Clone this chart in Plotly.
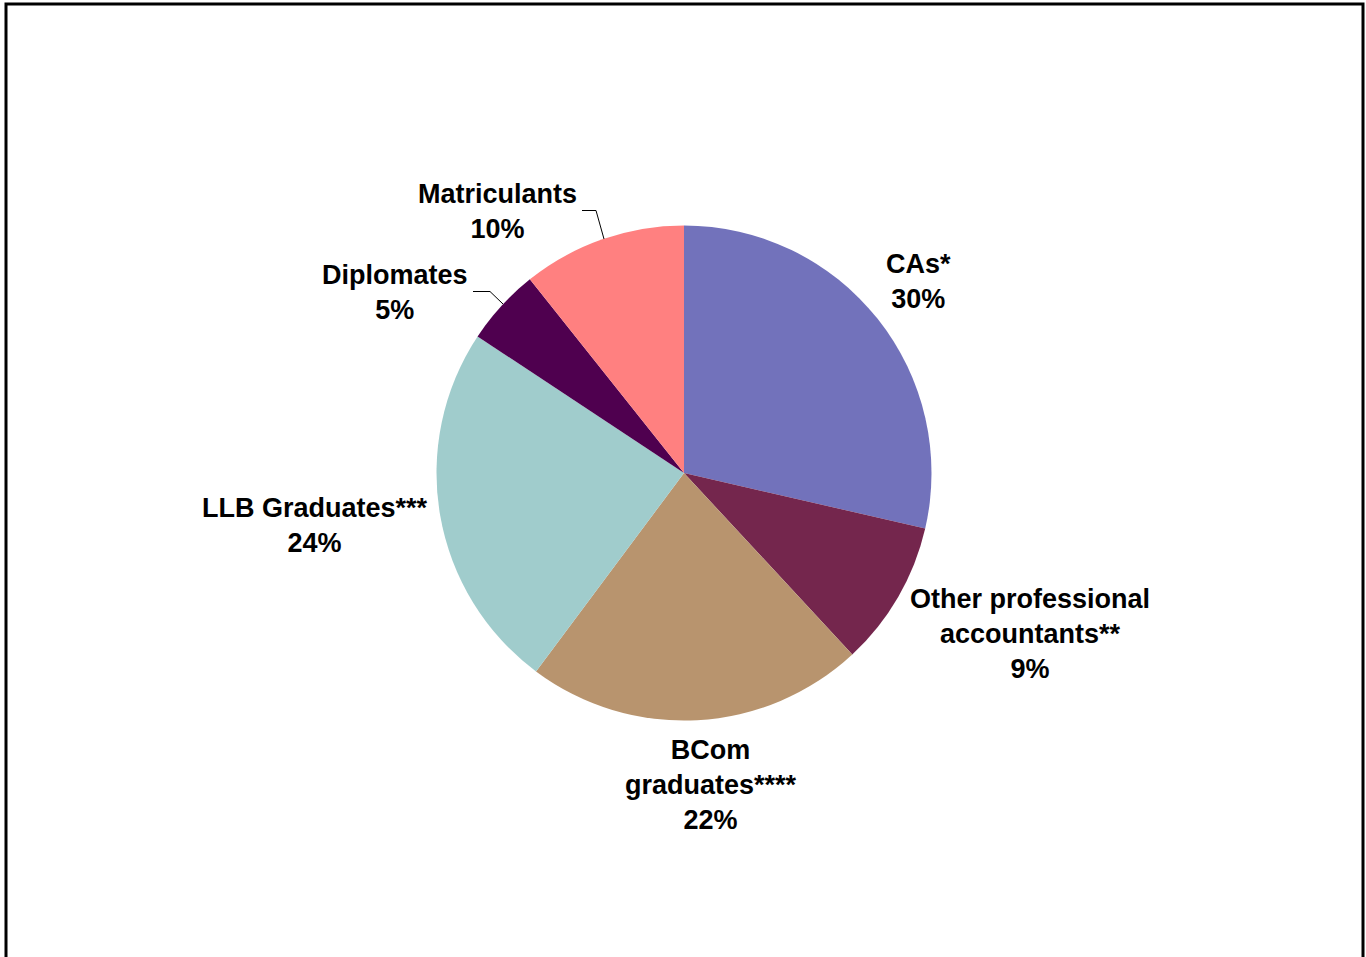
import plotly.graph_objects as go

# Data (slice shares; label text as printed)
categories = ["CAs*", "Other professional<br>accountants**", "BCom<br>graduates****",
              "LLB Graduates***", "Diplomates", "Matriculants"]
shares = [28.6, 9.5, 22.1, 24.1, 5.0, 10.7]
pct_labels = ["30%", "9%", "22%", "24%", "5%", "10%"]

colors = ["#7272bb", "#74264d", "#b8946e", "#a0cccc", "#4f004f", "#ff8080"]

W, H = 1366, 957
cx, cy, r = 684, 473, 247.5

def px(x):
    return x / W

def py(y):
    return 1 - y / H

fig = go.Figure(go.Pie(
    labels=[c.replace("<br>", " ") for c in categories],
    values=shares,
    sort=False,
    direction="clockwise",
    rotation=0,
    textinfo="none",
    hoverinfo="label+percent",
    marker=dict(colors=colors, line=dict(width=0)),
    domain=dict(x=[px(cx - r), px(cx + r)], y=[py(cy + r), py(cy - r)]),
    showlegend=False,
))

# label centres (pixels)
label_pos = [(918, 281), (1029.5, 634), (711, 785), (315, 525), (395, 292), (497, 211)]

annotations = []
for cat, pct, (lx, ly) in zip(categories, pct_labels, label_pos):
    annotations.append(dict(
        x=px(lx), y=py(ly), xref="paper", yref="paper",
        text=f"{cat}<br>{pct}", showarrow=False,
        font=dict(family="Liberation Sans, Arial", size=27, color="black", weight="bold"),
        align="center", xanchor="center", yanchor="middle",
    ))

shapes = [
    # outer frame
    dict(type="rect", xref="paper", yref="paper",
         x0=px(6), x1=px(1363), y0=py(4), y1=-0.1,
         line=dict(color="black", width=3), fillcolor="rgba(0,0,0,0)"),
    # leader line Matriculants
    dict(type="path", xref="paper", yref="paper",
         path=f"M {px(582)} {py(210.5)} L {px(596)} {py(210.5)} L {px(604)} {py(239)}",
         line=dict(color="black", width=1)),
    # leader line Diplomates
    dict(type="path", xref="paper", yref="paper",
         path=f"M {px(473)} {py(291.5)} L {px(490)} {py(291.5)} L {px(503)} {py(304)}",
         line=dict(color="black", width=1)),
]

fig.update_layout(
    width=W, height=H,
    margin=dict(l=0, r=0, t=0, b=0),
    paper_bgcolor="white", plot_bgcolor="white",
    annotations=annotations, shapes=shapes,
)

fig.write_html("out.html")
